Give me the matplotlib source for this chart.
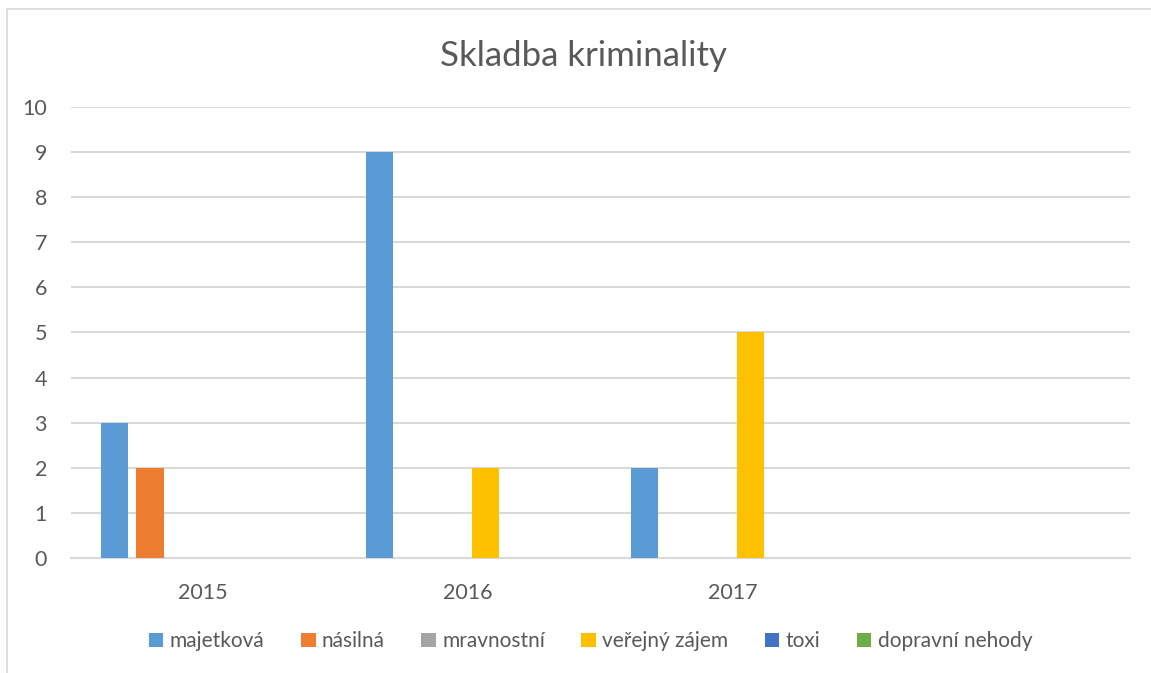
import matplotlib.pyplot as plt
import numpy as np
from matplotlib.patches import Rectangle

plt.rcParams['font.family'] = ['Lato', 'DejaVu Sans']

# Data
categories = ['2015', '2016', '2017', '']
series_names = ['majetková', 'násilná', 'mravnostní', 'veřejný zájem', 'toxi', 'dopravní nehody']
majetkova = [3, 9, 2, 0]
nasilna = [2, 0, 0, 0]
mravnostni = [0, 0, 0, 0]
verejny_zajem = [0, 2, 5, 0]
toxi = [0, 0, 0, 0]
dopravni_nehody = [0, 0, 0, 0]

series = [majetkova, nasilna, mravnostni, verejny_zajem, toxi, dopravni_nehody]
colors = ['#5B9BD5', '#ED7D31', '#A5A5A5', '#FFC000', '#4472C4', '#70AD47']

fig = plt.figure(figsize=(11.51, 6.73), dpi=100)
ax = fig.add_axes([0.0613, 0.1709, 0.9205, 0.6701])

# chart border (Excel-like frame, partly cut off)
fig.patches.append(Rectangle((7 / 1151, -0.05), 1.2, 1 - 9 / 673 + 0.05,
                             transform=fig.transFigure, fill=False,
                             edgecolor='#d9d9d9', linewidth=1.2))

x = np.arange(len(categories))
slot = 0.8 / len(series)
bar_w = slot * 0.77
for i, (name, vals, c) in enumerate(zip(series_names, series, colors)):
    offs = (i - (len(series) - 1) / 2) * slot
    ax.bar(x + offs, vals, width=bar_w, color=c, label=name, zorder=3)

ax.set_xlim(-0.5, len(categories) - 0.5)
ax.set_ylim(0, 10)
ax.set_yticks(range(0, 11))
ax.set_xticks(x)
ax.set_xticklabels(categories)
ax.tick_params(axis='both', length=0, labelsize=15.5, colors='#595959')
ax.tick_params(axis='x', pad=18)
ax.tick_params(axis='y', pad=17)

ax.grid(axis='y', color='#d9d9d9', linewidth=1.5, zorder=0)
for s in ['top', 'right', 'left']:
    ax.spines[s].set_visible(False)
ax.spines['bottom'].set_color('#d9d9d9')
ax.spines['bottom'].set_linewidth(1.5)

fig.text(0.507, 0.917, 'Skladba kriminality', ha='center', va='center',
         fontsize=25, color='#595959')

fig.legend(loc='center', bbox_to_anchor=(0.513, 0.047), ncol=6, frameon=False,
           fontsize=15, labelcolor='#595959', handlelength=0.7, handleheight=0.7,
           handletextpad=0.3, columnspacing=1.75)

fig.savefig('out.png', dpi=100)
